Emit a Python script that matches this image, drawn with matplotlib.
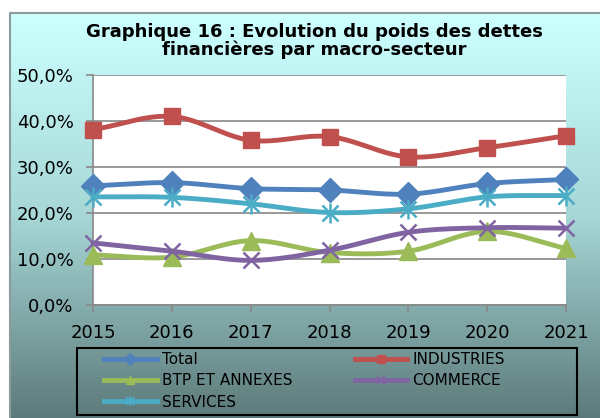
import numpy as np
import matplotlib
matplotlib.use("Agg")
import matplotlib.pyplot as plt
from matplotlib.colors import LinearSegmentedColormap
from matplotlib.lines import Line2D
from matplotlib.patches import Rectangle
from matplotlib.legend_handler import HandlerTuple
from matplotlib.ticker import FuncFormatter

years = [2015, 2016, 2017, 2018, 2019, 2020, 2021]
total = [25.9, 26.6, 25.3, 25.0, 24.1, 26.4, 27.3]
industries = [38.1, 41.0, 35.8, 36.6, 32.2, 34.2, 36.8]
btp = [10.9, 10.4, 14.0, 11.4, 11.7, 16.0, 12.3]
commerce = [13.5, 11.7, 9.7, 11.9, 15.8, 16.8, 16.7]
services = [23.5, 23.4, 22.0, 20.1, 20.9, 23.5, 23.8]
yticks = [0, 10, 20, 30, 40, 50]
title = "Graphique 16 : Evolution du poids des dettes\nfinancières par macro-secteur"

plt.rcParams['font.family'] = ['DejaVu Sans']


def smooth(x, y, n=24):
    pts = np.column_stack([np.asarray(x, float), np.asarray(y, float)])
    padded = np.vstack([2 * pts[0] - pts[1], pts, 2 * pts[-1] - pts[-2]])
    out = []
    t = np.linspace(0, 1, n, endpoint=False)[:, None]
    for i in range(1, len(padded) - 2):
        p0, p1, p2, p3 = padded[i - 1:i + 3]
        seg = 0.5 * ((2 * p1) + (-p0 + p2) * t + (2 * p0 - 5 * p1 + 4 * p2 - p3) * t ** 2
                     + (-p0 + 3 * p1 - 3 * p2 + p3) * t ** 3)
        out.append(seg)
    out.append(pts[-1][None])
    arr = np.vstack(out)
    return arr[:, 0], arr[:, 1]


W, H = 600, 418
PL, PR, PT, PB = 93, 566, 75, 305
fig = plt.figure(figsize=(W / 100, H / 100), dpi=100, facecolor='white')
px = lambda x, y: (x / W, 1 - y / H)

# background gradient of the chart area, drawn as thin horizontal bands
cmap = LinearSegmentedColormap.from_list('bg', ['#CCFFFF', '#A6D6D6', '#5C7979'])
band_edges = np.arange(13, H + 2, 2)
for y0 in band_edges:
    frac = (y0 - 13) / (H - 13)
    x0, y1 = px(10, y0 + 2.5)
    fig.add_artist(Rectangle((x0, y1), 1.0, 2.5 / H, transform=fig.transFigure,
                             facecolor=cmap(frac), edgecolor='none', lw=0, zorder=-20))
# chart-area border: only the left and top edges are inside the picture
bx, by = zip(px(10, H + 5), px(10, 13), px(W + 5, 13))
fig.add_artist(Line2D(bx, by, transform=fig.transFigure, color='#8C9C9C', lw=1.5,
                      zorder=-19))
x0, y1 = px(77, 415)
fig.add_artist(Rectangle((x0, y1), 500 / W, 67 / H, transform=fig.transFigure, fill=False,
                         edgecolor='black', lw=1.5, zorder=-18))

ax = fig.add_axes([PL / W, 1 - PB / H, (PR - PL) / W, (PB - PT) / H], zorder=5)
ax.set_facecolor('white')
ax.set_xlim(years[0], years[-1])
ax.set_ylim(0, 50)
ax.set_yticks(yticks)
ax.yaxis.set_major_formatter(FuncFormatter(lambda v, p: f"{v:.1f}%".replace('.', ',')))
ax.set_xticks(years)
ax.set_xticklabels([str(y) for y in years])
ax.grid(axis='y', color='#888888', lw=1.2)
ax.set_axisbelow(True)
for s in ['top', 'right']:
    ax.spines[s].set_visible(False)
for s in ['left', 'bottom']:
    ax.spines[s].set_color('#888888')
    ax.spines[s].set_linewidth(1.2)
ax.tick_params(axis='both', colors='#888888', labelcolor='black', labelsize=13,
               length=5, width=1.2, direction='out')
ax.tick_params(axis='y', pad=9)
ax.tick_params(axis='x', pad=9)

series = [
    ('Total', total, '#4F81BD', 'D', 12),
    ('INDUSTRIES', industries, '#C0504D', 's', 12),
    ('BTP ET ANNEXES', btp, '#9BBB59', '^', 13),
    ('COMMERCE', commerce, '#8064A2', 'x', 12),
    ('SERVICES', services, '#4BACC6', 'x', 12),
]
handles = {}
for i, (name, vals, col, mk, ms) in enumerate(series):
    sx, sy = smooth(years, vals)
    ax.plot(sx, sy, color=col, lw=3.5, solid_capstyle='round', clip_on=False, zorder=3 + i)
    if mk == 'x':
        ax.plot(years, vals, ls='none', marker='x', ms=ms, mew=1.8, color=col,
                clip_on=False, zorder=3.5 + i)
        if name == 'SERVICES':
            ax.plot(years, vals, ls='none', marker='|', ms=ms + 2, mew=1.8, color=col,
                    clip_on=False, zorder=3.5 + i)
            h = (Line2D([], [], color=col, lw=3.5, marker='x', ms=6, mew=1.2),
                 Line2D([], [], color=col, lw=0, marker='|', ms=7, mew=1.2))
        else:
            h = Line2D([], [], color=col, lw=3.5, marker='x', ms=6, mew=1.2)
    else:
        ax.plot(years, vals, ls='none', marker=mk, ms=ms, color=col, mec=col,
                clip_on=False, zorder=3.5 + i)
        h = Line2D([], [], color=col, lw=3.5, marker=mk, ms=6)
    handles[name] = h

fig.text(314 / W, 1 - 41 / H, title, ha='center', va='center', fontsize=13,
         fontweight='bold', linespacing=0.95)

order = ['Total', 'BTP ET ANNEXES', 'SERVICES', 'INDUSTRIES', 'COMMERCE']
leg = fig.legend([handles[k] for k in order], order, ncol=2, loc='upper left',
                 bbox_to_anchor=(104 / W, 1 - 352 / H), frameon=False, fontsize=11,
                 handlelength=3.45, handletextpad=0.32, columnspacing=4.1,
                 labelspacing=0.42, borderpad=0, borderaxespad=0,
                 handler_map={tuple: HandlerTuple(ndivide=1, pad=0)})

fig.savefig('out.png', dpi=100)
